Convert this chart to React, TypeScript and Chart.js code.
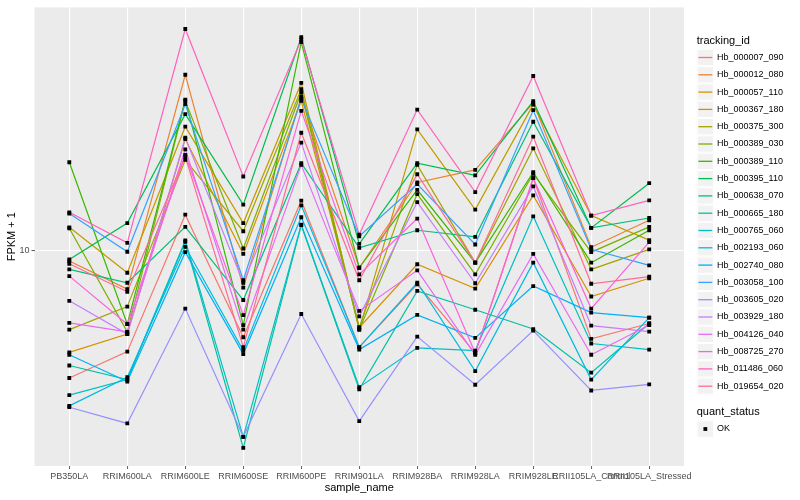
import { useEffect, useRef } from "react";
import { Chart, registerables } from "chart.js";
Chart.register(...registerables);

const categories = [
  "PB350LA", "RRIM600LA", "RRIM600LE", "RRIM600SE", "RRIM600PE", "RRIM901LA",
  "RRIM928BA", "RRIM928LA", "RRIM928LE", "RRII105LA_Control", "RRII105LA_Stressed",
];

const trackingIds = [
  "Hb_000007_090", "Hb_000012_080", "Hb_000057_110", "Hb_000367_180", "Hb_000375_300",
  "Hb_000389_030", "Hb_000389_110", "Hb_000395_110", "Hb_000638_070", "Hb_000665_180",
  "Hb_000765_060", "Hb_002193_060", "Hb_002740_080", "Hb_003058_100", "Hb_003605_020",
  "Hb_003929_180", "Hb_004126_040", "Hb_008725_270", "Hb_011486_060", "Hb_019654_020",
];

const seriesColors = [
  "#F8766D", "#EA8331", "#D89000", "#C09B00", "#A3A500", "#7CAE00", "#39B600", "#00BB4E",
  "#00BF7D", "#00C1A3", "#00BFC4", "#00BAE0", "#00B0F6", "#35A2FF", "#9590FF", "#C77CFF",
  "#E76BF3", "#FA62DB", "#FF62BC", "#FF6C91",
];

// FPKM + 1 per sample, one array per tracking_id
const hb000007_090 = [5.54, 6.26, 11.80, 6.69, 12.59, 6.39, 8.55, 6.22, 13.97, 6.64, 7.13];
const hb000012_080 = [9.52, 8.36, 22.55, 8.42, 20.35, 9.23, 13.70, 14.52, 19.80, 10.15, 11.50];
const hb000057_110 = [6.24, 6.79, 16.75, 9.84, 19.98, 7.00, 9.38, 8.38, 12.90, 8.08, 8.79];
const hb000367_180 = [11.13, 9.02, 17.73, 11.35, 21.71, 6.93, 17.51, 12.08, 19.64, 11.75, 10.49];
const hb000375_300 = [6.93, 7.71, 15.21, 10.93, 21.09, 7.00, 14.86, 9.45, 16.04, 9.16, 10.05];
const hb000389_030 = [11.08, 6.86, 19.98, 10.09, 20.76, 6.93, 12.98, 8.95, 14.26, 9.92, 11.15];
const hb000389_110 = [15.04, 7.11, 20.10, 7.08, 26.22, 9.23, 13.24, 9.45, 14.36, 9.45, 10.98];
const hb000395_110 = [9.59, 11.35, 18.79, 12.36, 26.83, 10.31, 14.97, 14.15, 19.95, 11.10, 13.65];
const hb000638_070 = [9.16, 8.61, 11.15, 7.95, 14.97, 10.12, 10.98, 10.65, 18.14, 11.10, 11.62];
const hb000665_180 = [5.87, 5.50, 10.40, 4.01, 11.24, 5.26, 8.29, 7.60, 6.95, 5.68, 7.13];
const hb000765_060 = [5.12, 5.50, 10.47, 4.22, 11.27, 5.31, 6.37, 6.29, 11.71, 6.50, 6.32];
const hb002193_060 = [4.87, 5.56, 10.17, 6.29, 12.32, 6.39, 8.61, 5.72, 9.45, 5.50, 7.33];
const hb002740_080 = [6.17, 5.45, 9.92, 6.19, 11.66, 6.32, 7.42, 6.67, 8.48, 7.50, 7.33];
const hb003058_100 = [11.86, 9.94, 19.68, 8.71, 20.19, 10.68, 13.59, 10.28, 19.14, 10.05, 9.33];
const hb003605_020 = [4.84, 4.49, 7.64, 4.22, 7.45, 4.54, 6.71, 5.37, 6.90, 5.23, 5.38];
const hb003929_180 = [7.92, 6.79, 16.85, 8.61, 16.47, 7.37, 12.51, 8.59, 13.45, 7.06, 6.87];
const hb004126_040 = [7.15, 6.86, 15.97, 6.93, 14.86, 7.56, 9.12, 6.17, 9.84, 6.17, 7.08];
const hb008725_270 = [8.88, 7.11, 15.56, 7.41, 19.08, 8.95, 11.59, 6.22, 13.97, 7.64, 10.39];
const hb011486_060 = [11.93, 10.36, 27.87, 14.08, 26.55, 10.76, 19.19, 13.10, 22.42, 11.75, 12.61];
const hb019654_020 = [9.40, 8.26, 15.44, 6.39, 17.24, 8.71, 14.23, 9.45, 16.93, 8.57, 8.86];

const seriesValues = [
  hb000007_090, hb000012_080, hb000057_110, hb000367_180, hb000375_300, hb000389_030,
  hb000389_110, hb000395_110, hb000638_070, hb000665_180, hb000765_060, hb002193_060,
  hb002740_080, hb003058_100, hb003605_020, hb003929_180, hb004126_040, hb008725_270,
  hb011486_060, hb019654_020,
];

const yTickValues = [10];
const yTickLabels = ["10"];
const yRange = [3.687, 30.8];

const FONT = '"Liberation Sans", Arial, Helvetica, sans-serif';

const panelBg = {
  id: "panelBg",
  beforeDraw(chart: any) {
    const { ctx, chartArea } = chart;
    ctx.save();
    ctx.fillStyle = "#FFFFFF";
    ctx.fillRect(0, 0, chart.width, chart.height);
    ctx.fillStyle = "#EBEBEB";
    ctx.fillRect(chartArea.left, chartArea.top, chartArea.right - chartArea.left, chartArea.bottom - chartArea.top);
    ctx.restore();
  },
};

const ggLegend = {
  id: "ggLegend",
  afterDraw(chart: any) {
    const ctx = chart.ctx;
    ctx.save();
    const x0 = 696.7;
    const k = 17.3;
    ctx.textAlign = "left";
    ctx.textBaseline = "middle";
    ctx.fillStyle = "#000000";
    ctx.font = `11px ${FONT}`;
    ctx.fillText("tracking_id", x0, 40.7);
    const top = 48.85;
    trackingIds.forEach((id, i) => {
      const y = top + i * k;
      ctx.fillStyle = "#F2F2F2";
      ctx.fillRect(x0, y, k, k);
      ctx.strokeStyle = "#FFFFFF";
      ctx.lineWidth = 1;
      ctx.strokeRect(x0 + 0.5, y + 0.5, k - 1, k - 1);
      ctx.strokeStyle = seriesColors[i];
      ctx.lineWidth = 1.3;
      ctx.beginPath();
      ctx.moveTo(x0 + 1.7, y + k / 2);
      ctx.lineTo(x0 + k - 1.7, y + k / 2);
      ctx.stroke();
      ctx.fillStyle = "#000000";
      ctx.font = `9px ${FONT}`;
      ctx.fillText(id, x0 + k + 3, y + k / 2);
    });
    ctx.font = `11px ${FONT}`;
    ctx.fillStyle = "#000000";
    ctx.fillText("quant_status", x0, 412.3);
    const qy = 420.35;
    ctx.fillStyle = "#F2F2F2";
    ctx.fillRect(x0, qy, k, k);
    ctx.strokeStyle = "#FFFFFF";
    ctx.lineWidth = 1;
    ctx.strokeRect(x0 + 0.5, qy + 0.5, k - 1, k - 1);
    ctx.fillStyle = "#000000";
    ctx.fillRect(x0 + k / 2 - 1.9, qy + k / 2 - 1.9, 3.8, 3.8);
    ctx.font = `9px ${FONT}`;
    ctx.fillText("OK", x0 + k + 3, qy + k / 2);
    ctx.restore();
  },
};

export default function App() {
  const ref = useRef<HTMLCanvasElement | null>(null);
  useEffect(() => {
    if (!ref.current) return;
    const lineSets = seriesValues.map((vals, i) => ({
      type: "line" as const,
      label: trackingIds[i],
      data: vals.map((v, j) => ({ x: j, y: v })),
      borderColor: seriesColors[i],
      backgroundColor: seriesColors[i],
      borderWidth: 1.2,
      pointRadius: 0,
      tension: 0,
      fill: false,
      order: -i,
    }));
    const pointSet = {
      type: "line" as const,
      label: "OK",
      data: seriesValues.flatMap((vals) => vals.map((v, j) => ({ x: j, y: v }))),
      showLine: false,
      pointStyle: "rect" as const,
      pointRadius: 2.7,
      pointBackgroundColor: "#000000",
      pointBorderWidth: 0,
      borderColor: "#000000",
      order: -100,
    };
    const chart = new Chart(ref.current, {
      type: "line",
      data: { datasets: [...lineSets, pointSet] as any },
      options: {
        animation: false,
        responsive: false,
        devicePixelRatio: 1,
        events: [],
        layout: { padding: { left: 0, top: 5, right: 116, bottom: 0 } },
        plugins: { legend: { display: false }, tooltip: { enabled: false } },
        scales: {
          x: {
            type: "linear",
            min: -0.6,
            max: categories.length - 1 + 0.6,
            afterBuildTicks: (s: any) => {
              s.ticks = categories.map((_, i) => ({ value: i }));
            },
            afterFit: (s: any) => {
              s.height = 34;
            },
            ticks: {
              autoSkip: false,
              maxRotation: 0,
              minRotation: 0,
              padding: 2,
              color: "#4D4D4D",
              font: { family: FONT, size: 9 },
              callback: (v: any) => categories[v as number] ?? "",
            },
            grid: { color: "#FFFFFF", lineWidth: 1.1, drawTicks: true, tickLength: 3, tickColor: "#333333", tickWidth: 0.8 },
            border: { display: false },
            title: { display: true, text: "sample_name", color: "#000000", font: { family: FONT, size: 11 }, padding: { top: 0, bottom: 5.4 } },
          },
          y: {
            type: "logarithmic",
            min: yRange[0],
            max: yRange[1],
            afterBuildTicks: (s: any) => {
              s.ticks = yTickValues.map((v) => ({ value: v }));
            },
            afterFit: (s: any) => {
              s.width = 34.5;
            },
            ticks: {
              padding: 2,
              color: "#4D4D4D",
              font: { family: FONT, size: 9 },
              callback: (v: any) => {
                const idx = yTickValues.indexOf(v as number);
                return idx >= 0 ? yTickLabels[idx] : "";
              },
            },
            grid: { color: "#FFFFFF", lineWidth: 1.1, drawTicks: true, tickLength: 3, tickColor: "#333333", tickWidth: 0.8 },
            border: { display: false },
            title: { display: true, text: "FPKM + 1", color: "#000000", font: { family: FONT, size: 11 }, padding: { top: 5.4, bottom: 0 } },
          },
        },
      },
      plugins: [panelBg, ggLegend],
    });
    return () => chart.destroy();
  }, []);
  return (
    <div style={{ position: "absolute", left: 0, top: 0, width: 800, height: 500 }}>
      <canvas ref={ref} width={800} height={500} style={{ display: "block", width: 800, height: 500 }} />
    </div>
  );
}
